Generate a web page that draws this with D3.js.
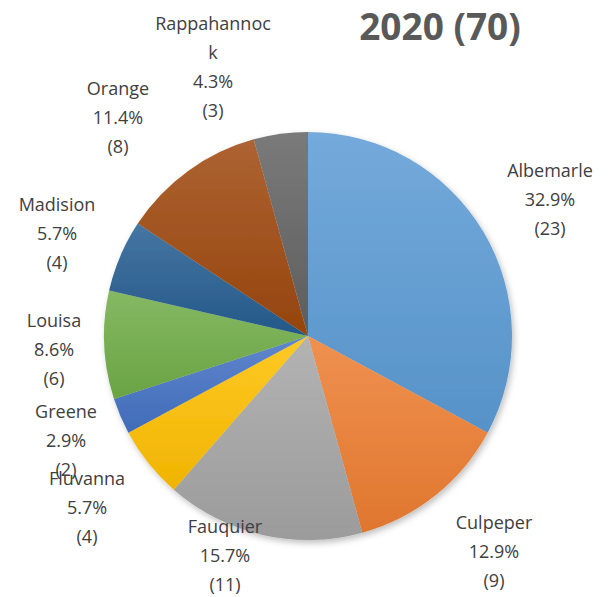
<!DOCTYPE html>
<html>
<head>
<meta charset="utf-8">
<script src="https://cdn.jsdelivr.net/npm/d3@7"></script>
<style>
  html, body { margin: 0; padding: 0; background: #fff; }
  text { font-family: "Open Sans", "Noto Sans", sans-serif; }
</style>
</head>
<body>
<div id="chart"></div>
<script>
// Data
const counties = ['Albemarle', 'Culpeper', 'Fauquier', 'Fluvanna', 'Greene', 'Louisa', 'Madision', 'Orange', 'Rappahannock'];
const counts = [23, 9, 11, 4, 2, 6, 4, 8, 3];
const labelNames = ['Albemarle', 'Culpeper', 'Fauquier', 'Fluvanna', 'Greene', 'Louisa', 'Madision', 'Orange', 'Rappahannoc\nk'];
const title = '2020 (70)';

// Layout
const colors = ['#5B9BD5', '#ED7D31', '#A5A5A5', '#FFC000', '#4472C4', '#70AD47', '#255E91', '#9E480E', '#636363'];
// label centres (x, middle y) as Excel placed them
const labelPos = [[550, 200], [494, 552], [225, 556], [87, 508], [66, 441], [54, 350], [57, 234], [118, 118], [213, 67]];

const width = 608, height = 597;
const cx = 308, cy = 336, radius = 204;
const lineH = 29;

const svg = d3.select('#chart')
  .append('svg')
  .attr('width', width)
  .attr('height', height);

const defs = svg.append('defs');

// soft shadow like Excel
const shadow = defs.append('filter')
  .attr('id', 'shadow')
  .attr('x', '-10%').attr('y', '-10%')
  .attr('width', '130%').attr('height', '130%');
shadow.append('feDropShadow')
  .attr('dx', 2).attr('dy', 3)
  .attr('stdDeviation', 3)
  .attr('flood-color', '#000')
  .attr('flood-opacity', 0.25);

// vertical gradient per slice
colors.forEach((c, i) => {
  const g = defs.append('linearGradient')
    .attr('id', 'grad' + i)
    .attr('x1', 0).attr('y1', 0)
    .attr('x2', 0).attr('y2', 1);
  const base = d3.hsl(c);
  const top = d3.interpolateRgb(c, '#ffffff')(0.15);
  const bottom = d3.interpolateRgb(c, '#000000')(0.06);
  g.append('stop').attr('offset', '0%').attr('stop-color', top);
  g.append('stop').attr('offset', '100%').attr('stop-color', bottom);
});

const pie = d3.pie()
  .sort(null)
  .value(d => d);

const arc = d3.arc()
  .innerRadius(0)
  .outerRadius(radius);

const arcs = pie(counts);
const total = d3.sum(counts);

const gPie = svg.append('g')
  .attr('transform', `translate(${cx},${cy})`)
  .attr('filter', 'url(#shadow)');

gPie.selectAll('path')
  .data(arcs)
  .enter()
  .append('path')
  .attr('d', arc)
  .attr('fill', (d, i) => `url(#grad${i})`);

// Data labels
const gLabels = svg.append('g');

arcs.forEach((d, i) => {
  const lines = labelNames[i].split('\n');
  lines.push((d.data / total * 100).toFixed(1) + '%');
  lines.push('(' + d.data + ')');
  const [lx, ly] = labelPos[i];
  const startY = ly - (lines.length - 1) * lineH / 2;
  const t = gLabels.append('text')
    .attr('text-anchor', 'middle')
    .style('font-size', '18px')
    .style('fill', '#404040');
  lines.forEach((line, j) => {
    t.append('tspan')
      .attr('x', lx)
      .attr('y', startY + j * lineH)
      .attr('dy', '0.35em')
      .text(line);
  });
});

// Title
svg.append('text')
  .attr('x', 440)
  .attr('y', 27)
  .attr('dy', '0.35em')
  .attr('text-anchor', 'middle')
  .style('font-size', '37px')
  .style('font-weight', 'bold')
  .style('fill', '#595959')
  .text(title);
</script>
</body>
</html>
